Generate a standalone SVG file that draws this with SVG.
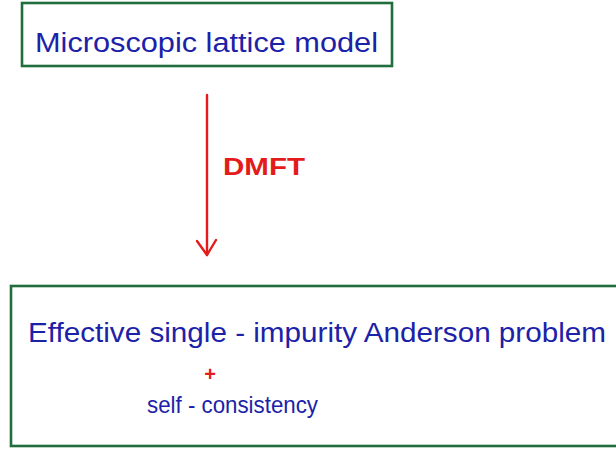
<svg xmlns="http://www.w3.org/2000/svg" width="616" height="456" viewBox="0 0 616 456">
  <style>
    .box { fill: #ffffff; stroke: #1f6e3c; stroke-width: 2.6; }
    .label { font-family: "Liberation Sans", "DejaVu Sans", sans-serif; fill: #1c22a8; }
    .red { fill: #e31b1b; font-family: "Liberation Sans", "DejaVu Sans", sans-serif; }
    .flow { stroke: #e31b1b; stroke-width: 2.4; fill: none; stroke-linecap: round; stroke-linejoin: round; }
  </style>
  <rect width="616" height="456" fill="#ffffff"/>

  <!-- upper node: the lattice model -->
  <g id="lattice-model">
    <rect class="box" x="22" y="3" width="370" height="63"/>
    <text class="label" x="35" y="52" font-size="27" textLength="343" lengthAdjust="spacingAndGlyphs">Microscopic lattice model</text>
  </g>

  <!-- connector: DMFT mapping -->
  <g id="connectors">
    <path class="flow" d="M207 95 L207 255"/>
    <path class="flow" d="M197 241 L207 255 L216 240"/>
    <text class="red" x="223" y="175" font-size="23" font-weight="bold" textLength="82" lengthAdjust="spacingAndGlyphs">DMFT</text>
  </g>

  <!-- lower node: impurity problem -->
  <g id="impurity-problem">
    <rect class="box" x="11" y="286" width="640" height="160"/>
    <text class="label" x="28" y="342" font-size="27" textLength="578" lengthAdjust="spacingAndGlyphs">Effective single - impurity Anderson problem</text>
    <text class="red" x="210" y="381" font-size="20" font-weight="bold" text-anchor="middle">+</text>
    <text class="label" x="147" y="413" font-size="24" textLength="171" lengthAdjust="spacingAndGlyphs">self - consistency</text>
  </g>
</svg>
